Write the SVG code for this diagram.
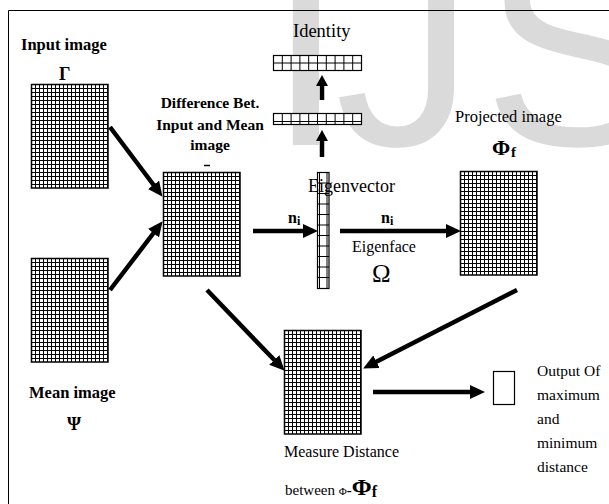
<svg xmlns="http://www.w3.org/2000/svg" width="609" height="504" viewBox="0 0 609 504">
  <defs>
    <style>
      .t { font-family: "Liberation Serif", "Times New Roman", serif; fill: #000; }
      .b { font-weight: bold; }
      .shaft { stroke: #000; stroke-width: 4.5; fill: none; }
      .thin { stroke: #000; stroke-width: 1; fill: none; }
      .wm { font-family: "Liberation Sans", Arial, sans-serif; fill: #dadada; }
    </style>
    <pattern id="cells" width="4" height="4" patternUnits="userSpaceOnUse">
      <rect width="4" height="4" fill="#fff"/>
      <path d="M0 0.5H4M0.5 0V4" stroke="#000" stroke-width="1"/>
    </pattern>
    <g id="grid">
      <rect x="0" y="0" width="77" height="104" fill="url(#cells)"/>
      <rect x="0.5" y="0.5" width="76.5" height="103.5" fill="none" stroke="#000" stroke-width="1.5"/>
    </g>
    <marker id="head" markerUnits="userSpaceOnUse" markerWidth="15" markerHeight="14" refX="4" refY="7" orient="auto">
      <path d="M0 0L15 7L0 14Z" fill="#000"/>
    </marker>
    <marker id="headS" markerUnits="userSpaceOnUse" markerWidth="11" markerHeight="12" refX="3" refY="6" orient="auto">
      <path d="M0 0L11 6L0 12Z" fill="#000"/>
    </marker>
  </defs>

  <rect width="609" height="504" fill="#fff"/>

  <!-- pale background lettering -->
  <text class="wm" x="267" y="145" font-size="280">I<tspan dx="-10">J</tspan><tspan dx="8">S</tspan></text>

  <!-- frame -->
  <path d="M8.5 504V10.5H609" class="thin" stroke-width="1.5"/>

  <g id="input-image">
    <text class="t b" x="21" y="50" font-size="16.5">Input image</text>
    <text class="t b" x="59" y="80" font-size="18">Γ</text>
    <use href="#grid" transform="translate(31,84)"/>
  </g>

  <g id="mean-image">
    <use href="#grid" transform="translate(31,258)"/>
    <text class="t b" x="29" y="398" font-size="16.5">Mean image</text>
    <text class="t b" x="67" y="430" font-size="18">Ψ</text>
  </g>

  <g id="difference">
    <text class="t b" x="210" y="108" font-size="15.5" text-anchor="middle">Difference Bet.</text>
    <text class="t b" x="210" y="130" font-size="15.5" text-anchor="middle">Input and Mean</text>
    <text class="t b" x="210" y="150" font-size="15.5" text-anchor="middle">image</text>
    <path d="M204 165.5H210" stroke="#000" stroke-width="1.5"/>
    <use href="#grid" transform="translate(163,172)"/>
  </g>

  <g id="identity">
    <text class="t" x="293" y="37" font-size="18.5">Identity</text>
    <rect x="273.5" y="55.5" width="88" height="15" fill="#fff" stroke="#000" stroke-width="1.2"/>
    <path class="thin" d="M273.5 63H361.5M282.3 55.5V70.5M291.1 55.5V70.5M299.9 55.5V70.5M308.7 55.5V70.5M317.5 55.5V70.5M326.3 55.5V70.5M335.1 55.5V70.5M343.9 55.5V70.5M352.7 55.5V70.5"/>
  </g>

  <g id="weights">
    <rect x="273.5" y="113.5" width="88" height="11" fill="#fff" stroke="#000" stroke-width="1.2"/>
    <path class="thin" d="M273.5 121.5H361.5M282.3 113.5V124.5M291.1 113.5V124.5M299.9 113.5V124.5M308.7 113.5V124.5M317.5 113.5V124.5M326.3 113.5V124.5M335.1 113.5V124.5M343.9 113.5V124.5M352.7 113.5V124.5"/>
  </g>

  <g id="eigenvector">
    <rect x="317.5" y="172.5" width="11.5" height="116" fill="#fff" stroke="#000" stroke-width="1.2"/>
    <path class="thin" d="M319.5 172.5V288.5M327 172.5V288.5M317.5 183H329M317.5 193.5H329M317.5 204H329M317.5 214.5H329M317.5 225H329M317.5 235.5H329M317.5 246H329M317.5 256.5H329M317.5 267H329M317.5 277.5H329"/>
    <text class="t" x="308" y="192" font-size="18">Eigenvector</text>
  </g>

  <g id="eigenface">
    <text class="t" x="352" y="252" font-size="16">Eigenface</text>
    <text class="t" x="372" y="282" font-size="25">Ω</text>
  </g>

  <g id="projected-image">
    <text class="t" x="455" y="122" font-size="16.5">Projected image</text>
    <text class="t b" x="492" y="155" font-size="22">Φ</text>
    <text class="t b" x="511" y="157" font-size="15">f</text>
    <use href="#grid" transform="translate(460,171)"/>
  </g>

  <g id="measure-distance">
    <use href="#grid" transform="translate(284,330)"/>
    <text class="t" x="284" y="457" font-size="16">Measure Distance</text>
    <text class="t" x="285" y="495" font-size="15">between <tspan font-size="11">Φ</tspan><tspan class="b">-</tspan><tspan class="b" font-size="24">Φ</tspan><tspan class="b" font-size="16" dy="2">f</tspan></text>
  </g>

  <g id="output">
    <rect x="493.5" y="371.5" width="21" height="33" fill="#fff" stroke="#000" stroke-width="1.2"/>
    <text class="t" x="537" y="376" font-size="15.5">Output Of</text>
    <text class="t" x="537" y="400" font-size="15.5">maximum</text>
    <text class="t" x="537" y="424" font-size="15.5">and</text>
    <text class="t" x="537" y="448" font-size="15.5">minimum</text>
    <text class="t" x="537" y="472" font-size="15.5">distance</text>
  </g>

  <g id="connectors">
    <path class="shaft" d="M110 127L155.9 188" marker-end="url(#head)"/>
    <path class="shaft" d="M110 290L155.9 230" marker-end="url(#head)"/>
    <path class="shaft" d="M253 231H307" marker-end="url(#head)"/>
    <path class="shaft" d="M340 231H450" marker-end="url(#head)"/>
    <path class="shaft" d="M322 157V138" marker-end="url(#headS)"/>
    <path class="shaft" d="M322 100V83" marker-end="url(#headS)"/>
    <text class="t b" x="288" y="223" font-size="16">n<tspan font-size="12" dy="2">i</tspan></text>
    <text class="t b" x="381" y="223" font-size="16">n<tspan font-size="12" dy="2">i</tspan></text>
    <path class="shaft" d="M207 290L277 362.8" marker-end="url(#head)"/>
    <path class="shaft" d="M517 290L372.9 363.5" marker-end="url(#head)"/>
    <path class="shaft" d="M373 392H474" marker-end="url(#head)"/>
  </g>
</svg>
